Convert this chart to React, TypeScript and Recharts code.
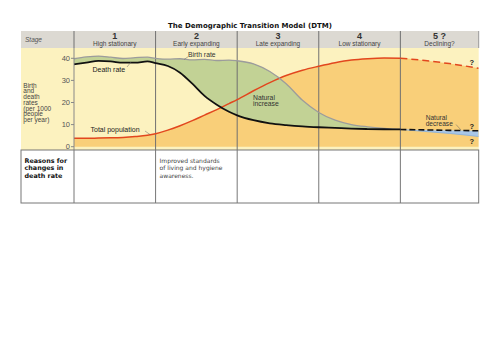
import React from 'react';
import { ComposedChart, Area, Line, XAxis, YAxis, ReferenceLine } from 'recharts';

// ---- data (x in stage units: stage n spans n-1 .. n) ----
const stagePositions = [0, 0.15, 0.3, 0.45, 0.6, 0.75, 0.9, 1.0, 1.15, 1.3, 1.45, 1.6, 1.75, 1.9, 2.0, 2.2, 2.4, 2.6, 2.8, 3.0, 3.2, 3.4, 3.6, 3.8, 4.0, 4.3, 4.6, 4.96];
const birthRate = [39.8, 40.6, 41.0, 40.5, 39.9, 40.3, 40.5, 40.0, 39.6, 39.8, 39.3, 39.5, 39.0, 39.2, 38.9, 37.5, 34.0, 28.5, 21.0, 15.5, 12.0, 10.0, 9.0, 8.3, 7.8, 6.9, 6.0, 4.6];
const deathRate = [37.3, 38.0, 38.8, 38.6, 38.0, 38.0, 38.6, 37.8, 36.5, 33.5, 28.5, 23.0, 19.0, 15.8, 14.2, 12.0, 10.6, 9.8, 9.2, 8.8, 8.5, 8.2, 8.0, 7.9, 7.8, 7.6, 7.4, 7.2];
const totalPopulation = [3.8, 3.8, 3.9, 4.0, 4.2, 4.6, 5.2, 5.9, 7.5, 9.5, 11.8, 14.3, 16.8, 19.5, 21.3, 25.3, 29.0, 32.2, 34.6, 36.4, 38.0, 39.2, 39.8, 40.1, 40.0, 39.0, 37.6, 35.5];
const yTicks = [0, 10, 20, 30, 40];
const stageBoundaries = [1, 2, 3, 4];
const stageNumbers = ['1', '2', '3', '4', '5 ?'];
const stageNames = ['High stationary', 'Early expanding', 'Late expanding', 'Low stationary', 'Declining?'];
const yLabelLines = ['Birth', 'and', 'death', 'rates', '(per 1000', 'people', 'per year)'];
const rowHeaderLines = ['Reasons for', 'changes in', 'death rate'];
const stage2ReasonLines = ['Improved standards', 'of living and hygiene', 'awareness.'];
const FUTURE_START = 4;
const X_MAX = 4.96;
const Y_MIN = -1.49;
const Y_MAX = 44.66;

const data = stagePositions.map((x, i) => {
  const b = birthRate[i];
  const d = deathRate[i];
  const p = totalPopulation[i];
  const past = x <= FUTURE_START;
  const future = x >= FUTURE_START;
  return {
    x,
    pop: p,
    popSolid: past ? p : null,
    popDashed: future ? p : null,
    birthSolid: past ? b : null,
    birthFuture: future ? b : null,
    deathSolid: past ? d : null,
    deathDashed: future ? d : null,
    increase: past ? [d, b] : null,
    decrease: future ? [b, d] : null,
  };
});

// ---- layout ----
const W = 500;
const H = 353;
const LEFT = 21;
const PLOT_LEFT = 74;
const PLOT_RIGHT = 478.7;
const HEADER_TOP = 31;
const PLOT_TOP = 48;
const PLOT_BOTTOM = 150;
const TABLE_TOP = 150;
const TABLE_BOTTOM = 203;
const px = (u: number) => PLOT_LEFT + ((PLOT_RIGHT - PLOT_LEFT) * u) / X_MAX;

const SANS = '"Liberation Sans", Arial, sans-serif';
const VERD = '"DejaVu Sans", Verdana, sans-serif';

const C = {
  header: '#dcd9d2',
  yellow: '#fcf2bf',
  orange: '#f9cf79',
  green: '#c2d295',
  blue: '#a8c7e8',
  red: '#e2471e',
  birth: '#9c9c9c',
  grid: '#707070',
  text: '#333',
};

export default function App() {
  const cols = [LEFT, ...[0, 1, 2, 3, 4].map(px), PLOT_RIGHT];
  return (
    <div style={{ position: 'absolute', left: 0, top: 0, width: W, height: H, background: '#fff', overflow: 'hidden' }}>
      {/* backgrounds */}
      <svg width={W} height={H} style={{ position: 'absolute', left: 0, top: 0 }}>
        <rect x={LEFT} y={HEADER_TOP} width={PLOT_RIGHT - LEFT} height={PLOT_TOP - HEADER_TOP} fill={C.header} />
        <rect x={LEFT} y={PLOT_TOP} width={PLOT_RIGHT - LEFT} height={PLOT_BOTTOM - PLOT_TOP} fill={C.yellow} />
      </svg>

      <div style={{ position: 'absolute', left: 0, top: 0 }}>
        <ComposedChart
          width={W}
          height={160}
          data={data}
          margin={{ top: PLOT_TOP, bottom: 160 - PLOT_BOTTOM, left: PLOT_LEFT - 30, right: W - PLOT_RIGHT }}
        >
          <XAxis dataKey="x" type="number" domain={[0, X_MAX]} hide allowDataOverflow />
          <YAxis
            type="number"
            domain={[Y_MIN, Y_MAX]}
            ticks={yTicks}
            allowDataOverflow
            width={30}
            tickSize={3}
            tickMargin={1}
            axisLine={{ stroke: '#888' }}
            tickLine={{ stroke: '#888' }}
            tick={{ fontSize: 7.5, fill: '#555', fontFamily: SANS }}
          />
          <Area dataKey="pop" type="monotone" fill={C.orange} fillOpacity={1} stroke="none" isAnimationActive={false} />
          <Area dataKey="increase" type="monotone" fill={C.green} fillOpacity={1} stroke="none" isAnimationActive={false} />
          <Area dataKey="decrease" type="monotone" fill={C.blue} fillOpacity={1} stroke="none" isAnimationActive={false} />
          {stageBoundaries.map((b) => (
            <ReferenceLine key={b} x={b} stroke={C.grid} strokeWidth={1} />
          ))}
          <Line dataKey="popSolid" type="monotone" stroke={C.red} strokeWidth={1.5} dot={false} isAnimationActive={false} />
          <Line dataKey="popDashed" type="monotone" stroke={C.red} strokeWidth={1.5} strokeDasharray="7 4" dot={false} isAnimationActive={false} />
          <Line dataKey="birthSolid" type="monotone" stroke={C.birth} strokeWidth={1.3} dot={false} isAnimationActive={false} />
          <Line dataKey="birthFuture" type="monotone" stroke="#86aedb" strokeWidth={0.8} dot={false} isAnimationActive={false} />
          <Line dataKey="deathSolid" type="monotone" stroke="#111" strokeWidth={1.8} dot={false} isAnimationActive={false} />
          <Line dataKey="deathDashed" type="monotone" stroke="#111" strokeWidth={1.6} strokeDasharray="6 3" dot={false} isAnimationActive={false} />
        </ComposedChart>
      </div>

      {/* overlay: header, annotations, table */}
      <svg width={W} height={H} style={{ position: 'absolute', left: 0, top: 0, pointerEvents: 'none' }}>
        <text x={250} y={27.5} textAnchor="middle" fontFamily={VERD} fontWeight="bold" fontSize={7} fill="#111">
          The Demographic Transition Model (DTM)
        </text>
        {/* header */}
        <text x={25} y={41.5} fontFamily={SANS} fontStyle="italic" fontSize={6.5} fill="#555">Stage</text>
        {[0, 1, 2, 3, 4].map((k) => {
          const x0 = px(k);
          const x1 = k === 4 ? PLOT_RIGHT : px(k + 1);
          const cx = (x0 + x1) / 2;
          return (
            <g key={k}>
              <line x1={x0} x2={x0} y1={HEADER_TOP} y2={PLOT_TOP} stroke={C.grid} />
              <text x={cx} y={38.8} textAnchor="middle" fontFamily={SANS} fontWeight="bold" fontSize={9} fill="#333">{stageNumbers[k]}</text>
              <text x={cx} y={46} textAnchor="middle" fontFamily={SANS} fontSize={6.5} fill="#444">{stageNames[k]}</text>
            </g>
          );
        })}
        <line x1={PLOT_RIGHT} x2={PLOT_RIGHT} y1={HEADER_TOP} y2={PLOT_TOP} stroke="#999" />

        {/* y label */}
        {yLabelLines.map((t, i) => (
          <text key={t} x={23.3} y={87.5 + i * 5.75} fontFamily={SANS} fontSize={6.5} fill="#444">{t}</text>
        ))}

        {/* annotations */}
        <text x={188} y={56.5} fontFamily={SANS} fontSize={6.8} fill="#333">Birth rate</text>
        <line x1={188} y1={56.8} x2={184} y2={59.5} stroke="#666" strokeWidth={0.5} />
        <text x={92.5} y={71.5} fontFamily={SANS} fontSize={7} fill="#222">Death rate</text>
        <line x1={127} y1={67} x2={131} y2={62} stroke="#666" strokeWidth={0.5} />
        <text x={90.5} y={131.5} fontFamily={SANS} fontSize={7} fill="#222">Total population</text>
        <line x1={145} y1={131} x2={150} y2={134.5} stroke="#666" strokeWidth={0.5} />
        <text x={253} y={100.3} fontFamily={SANS} fontSize={6.8} fill="#333">Natural</text>
        <text x={253} y={106.3} fontFamily={SANS} fontSize={6.8} fill="#333">increase</text>
        <text x={425.7} y={120.3} fontFamily={SANS} fontSize={6.6} fill="#333">Natural</text>
        <text x={425.7} y={126.3} fontFamily={SANS} fontSize={6.6} fill="#333">decrease</text>
        <line x1={456} y1={124.5} x2={461} y2={130} stroke="#666" strokeWidth={0.5} />
        <text x={471.7} y={65} textAnchor="middle" fontFamily={SANS} fontWeight="bold" fontSize={7.5} fill="#222">?</text>
        <text x={471.7} y={128.5} textAnchor="middle" fontFamily={SANS} fontWeight="bold" fontSize={7.5} fill="#222">?</text>
        <text x={471.7} y={144} textAnchor="middle" fontFamily={SANS} fontWeight="bold" fontSize={7.5} fill="#222">?</text>

        {/* table */}
        <rect x={LEFT} y={TABLE_TOP} width={PLOT_RIGHT - LEFT} height={TABLE_BOTTOM - TABLE_TOP} fill="none" stroke="#777" strokeWidth={1} />
        {cols.slice(1, -1).map((x, i) => (
          <line key={i} x1={x} x2={x} y1={TABLE_TOP} y2={TABLE_BOTTOM} stroke="#777" />
        ))}
        {rowHeaderLines.map((t, i) => (
          <text key={t} x={24.5} y={163 + i * 7.4} fontFamily={VERD} fontWeight="bold" fontSize={6.4} fill="#111">{t}</text>
        ))}
        {stage2ReasonLines.map((t, i) => (
          <text key={t} x={px(1) + 4} y={163 + i * 7.4} fontFamily={VERD} fontSize={6} fill="#444">{t}</text>
        ))}
      </svg>
    </div>
  );
}
